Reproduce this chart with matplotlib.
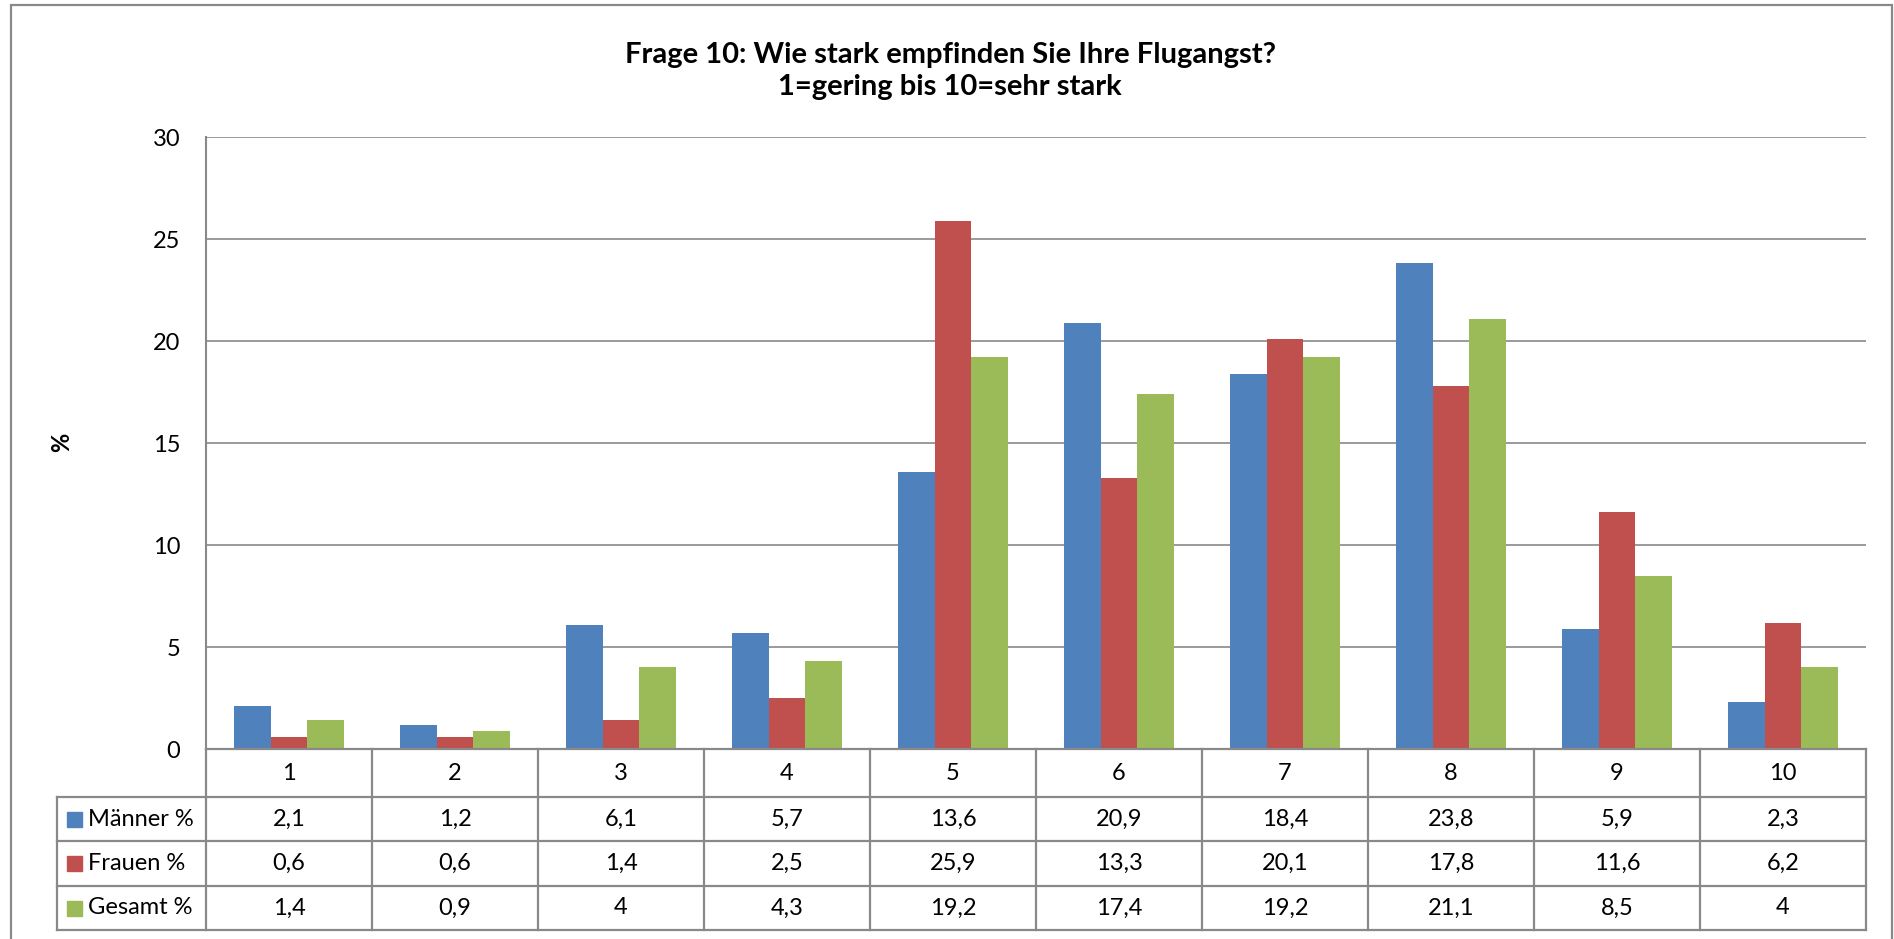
import numpy as np
import matplotlib.pyplot as plt
from matplotlib.transforms import blended_transform_factory
from matplotlib.patches import Rectangle
from matplotlib.lines import Line2D

categories = ['1', '2', '3', '4', '5', '6', '7', '8', '9', '10']
maenner = [2.1, 1.2, 6.1, 5.7, 13.6, 20.9, 18.4, 23.8, 5.9, 2.3]
frauen = [0.6, 0.6, 1.4, 2.5, 25.9, 13.3, 20.1, 17.8, 11.6, 6.2]
gesamt = [1.4, 0.9, 4, 4.3, 19.2, 17.4, 19.2, 21.1, 8.5, 4]
series_names = ['Männer %', 'Frauen %', 'Gesamt %']
colors = ['#4F81BD', '#C0504D', '#9BBB59']
title = 'Frage 10: Wie stark empfinden Sie Ihre Flugangst?\n1=gering bis 10=sehr stark'
yticks = [0, 5, 10, 15, 20, 25, 30]

plt.rcParams['font.family'] = ['Lato', 'DejaVu Sans']
W, H = 1894, 939
fig = plt.figure(figsize=(W / 100, H / 100), dpi=100)
gray = '#898989'
fs = 17

def fx(px):
    return px / W

def fy(py):
    return 1 - py / H

# plot area in pixels: x 206..1866, y 137..749
ax = fig.add_axes([fx(206), fy(749), fx(1660), 612 / H])
x = np.arange(len(categories))
bw = 0.222
series = [maenner, frauen, gesamt]
for k, (vals, c) in enumerate(zip(series, colors)):
    ax.bar(x + (k - 1) * bw, vals, width=bw, color=c, linewidth=0, zorder=3)

ax.set_xlim(-0.5, len(categories) - 0.5)
ax.set_ylim(0, 30)
ax.set_yticks(yticks)
ax.set_yticklabels([str(t) for t in yticks], fontsize=fs)
ax.tick_params(axis='y', length=0, pad=18.5)
ax.set_xticks([])
ax.grid(axis='y', color=gray, linewidth=1.2, zorder=0)
for s in ['top', 'right', 'bottom']:
    ax.spines[s].set_visible(False)
ax.spines['left'].set_color(gray)
ax.spines['left'].set_linewidth(1.5)

fig.text(fx(62), fy(442), '%', rotation=90, fontsize=fs, fontweight='bold',
         ha='center', va='center')
fig.text(fx(950), fy(71), title, fontsize=21, fontweight='bold',
         ha='center', va='center', linespacing=1.3)

# data table below the axis
tr = blended_transform_factory(ax.transData, fig.transFigure)
rows_px = [749, 797, 841, 886, 930]
rows = [fy(p) for p in rows_px]
left_col = -0.5 - (206 - 57) / 166.0
right = len(categories) - 0.5
kw = dict(color=gray, linewidth=1.6, transform=tr, clip_on=False)
# horizontal lines
fig.add_artist(Line2D([-0.5, right], [rows[0], rows[0]], **kw))
for r in rows[1:]:
    fig.add_artist(Line2D([left_col, right], [r, r], **kw))
# vertical lines
for i in range(len(categories) + 1):
    fig.add_artist(Line2D([i - 0.5, i - 0.5], [rows[0], rows[-1]], **kw))
fig.add_artist(Line2D([left_col, left_col], [rows[1], rows[-1]], **kw))

fmt = lambda v: ('%g' % v).replace('.', ',')
cy = (rows[0] + rows[1]) / 2
for i, c in enumerate(categories):
    fig.text(i, cy, c, transform=tr, ha='center', va='center', fontsize=fs)
for k, (name, vals, col) in enumerate(zip(series_names, series, colors)):
    cy = (rows[k + 1] + rows[k + 2]) / 2
    for i, v in enumerate(vals):
        fig.text(i, cy, fmt(v), transform=tr, ha='center', va='center', fontsize=fs)
    fig.add_artist(Rectangle((fx(67), cy - 7.5 / H), fx(15), 15 / H, color=col,
                             transform=fig.transFigure))
    fig.text(fx(88), cy, name, ha='left', va='center', fontsize=fs)

# chart frame
fig.add_artist(Rectangle((fx(11), fy(960)), fx(1881), (955) / H, fill=False,
                         edgecolor=gray, linewidth=1.6, transform=fig.transFigure))

fig.savefig('out.png', dpi=100)
